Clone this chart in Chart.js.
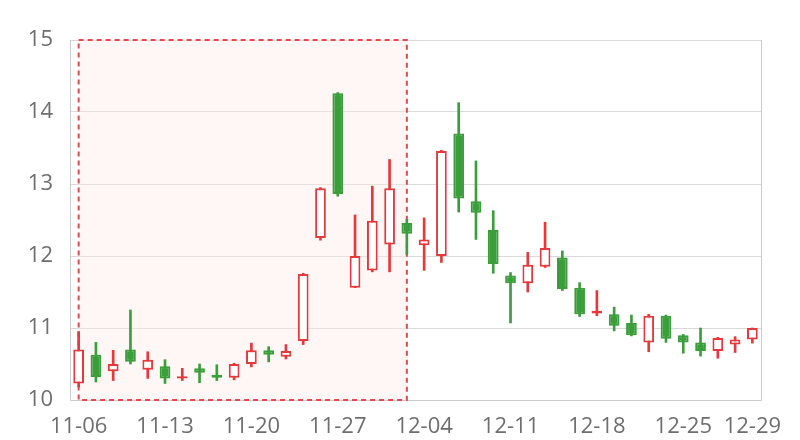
<!DOCTYPE html>
<html>
<head>
<meta charset="utf-8">
<script src="https://cdn.jsdelivr.net/npm/chart.js@4/dist/chart.umd.min.js"></script>
<style>
  html, body { margin: 0; padding: 0; background: #fff; }
  #wrap { width: 800px; height: 440px; }
</style>
</head>
<body>
<div id="wrap"><canvas id="kline"></canvas></div>
<script>
// fechas de cada vela (días hábiles)
const dates = ['11-06','11-07','11-08','11-09','11-10','11-13','11-14','11-15','11-16','11-17',
  '11-20','11-21','11-22','11-23','11-24','11-27','11-28','11-29','11-30','12-01',
  '12-04','12-05','12-06','12-07','12-08','12-11','12-12','12-13','12-14','12-15',
  '12-18','12-19','12-20','12-21','12-22','12-25','12-26','12-27','12-28','12-29'];

const openVals  = [10.23,10.63,10.40,10.70,10.42,10.47,10.30,10.44,10.35,10.31,
  10.50,10.69,10.60,10.82,12.25,14.26,11.56,11.80,12.16,12.46,
  12.15,12.00,13.70,12.76,12.36,11.73,11.62,11.85,11.98,11.56,
  11.20,11.19,11.07,10.80,11.17,10.90,10.80,10.68,10.77,10.84];
const closeVals = [10.70,10.32,10.50,10.53,10.56,10.30,10.33,10.38,10.31,10.50,
  10.69,10.63,10.68,11.75,12.94,12.86,12.00,12.49,12.94,12.31,
  12.23,13.46,12.80,12.60,11.89,11.62,11.88,12.11,11.54,11.19,
  11.24,11.03,10.90,11.17,10.85,10.80,10.68,10.86,10.84,11.00];
const highVals  = [10.95,10.80,10.69,11.25,10.67,10.56,10.44,10.50,10.49,10.51,
  10.79,10.74,10.77,11.76,12.95,14.27,12.57,12.97,13.34,12.51,
  12.53,13.47,14.13,13.32,12.63,11.77,12.05,12.47,12.07,11.63,
  11.52,11.29,11.18,11.19,11.18,10.91,11.00,10.87,10.88,11.00];
const lowVals   = [10.18,10.25,10.27,10.50,10.30,10.23,10.27,10.24,10.27,10.28,
  10.46,10.53,10.57,10.77,12.22,12.83,11.56,11.78,11.78,12.02,
  11.80,11.91,12.61,12.23,11.76,11.07,11.50,11.84,11.52,11.16,
  11.17,10.96,10.89,10.67,10.80,10.65,10.61,10.58,10.66,10.79];

// etiquetas visibles del eje x
const shownTicks = [0, 5, 10, 15, 20, 25, 30, 35, 39];
// zona marcada (índice inicial y final)
const markFrom = 0;
const markTo = 19;

const RED = '#e5393b';
const GREEN = '#3a9e3a';
const up = openVals.map((o, i) => closeVals[i] >= o);

// Plugin para la zona sombreada y el borde derecho
const markArea = {
  id: 'markArea',
  beforeDatasetsDraw(chart) {
    const { ctx, chartArea, scales } = chart;
    const x0 = scales.x.getPixelForValue(markFrom);
    const x1 = scales.x.getPixelForValue(markTo);
    const y0 = scales.y.getPixelForValue(15);
    const y1 = scales.y.getPixelForValue(10);
    ctx.save();
    ctx.fillStyle = 'rgba(255, 232, 232, 0.4)';
    ctx.fillRect(x0, y0, x1 - x0, y1 - y0);
    ctx.strokeStyle = '#e8474f';
    ctx.lineWidth = 2;
    ctx.setLineDash([5, 4]);
    ctx.strokeRect(x0, y0, x1 - x0, y1 - y0);
    ctx.setLineDash([]);
    ctx.strokeStyle = '#cccccc';
    ctx.lineWidth = 1;
    ctx.beginPath();
    ctx.moveTo(Math.round(chartArea.right) + 0.5, chartArea.top);
    ctx.lineTo(Math.round(chartArea.right) + 0.5, chartArea.bottom);
    ctx.stroke();
    ctx.restore();
  }
};

new Chart(document.getElementById('kline'), {
  type: 'bar',
  data: {
    labels: dates,
    datasets: [
      {
        label: 'body',
        data: openVals.map((o, i) => [o, closeVals[i]]),
        backgroundColor: up.map(u => u ? '#ffffff' : GREEN),
        borderColor: up.map(u => u ? RED : GREEN),
        borderWidth: 2,
        borderSkipped: false,
        barPercentage: 0.62,
        categoryPercentage: 1,
        grouped: false,
        order: 0
      },
      {
        label: 'wick',
        data: lowVals.map((l, i) => [l, highVals[i]]),
        backgroundColor: up.map(u => u ? RED : GREEN),
        barThickness: 2,
        grouped: false,
        order: 1
      }
    ]
  },
  options: {
    responsive: true,
    maintainAspectRatio: false,
    animation: false,
    events: [],
    layout: { padding: { left: 0, right: 39, top: 40, bottom: 0 } },
    plugins: {
      legend: { display: false },
      tooltip: { enabled: false }
    },
    scales: {
      x: {
        offset: true,
        grid: { display: false, drawTicks: false },
        border: { display: true, color: '#cccccc' },
        afterFit(axis) { axis.height = 40; },
        ticks: {
          autoSkip: false,
          maxRotation: 0,
          padding: 14,
          color: '#6e6e6e',
          font: { family: 'Open Sans', size: 22 },
          callback: (v, i) => shownTicks.includes(i) ? dates[i] : ''
        }
      },
      y: {
        min: 10,
        max: 15,
        afterFit(axis) { axis.width = 70; },
        grid: { color: '#d9d9d9', drawTicks: false },
        border: { display: true, color: '#cccccc' },
        ticks: {
          stepSize: 1,
          padding: 17,
          color: '#6e6e6e',
          font: { family: 'Open Sans', size: 22 }
        }
      }
    }
  },
  plugins: [markArea]
});
</script>
</body>
</html>
